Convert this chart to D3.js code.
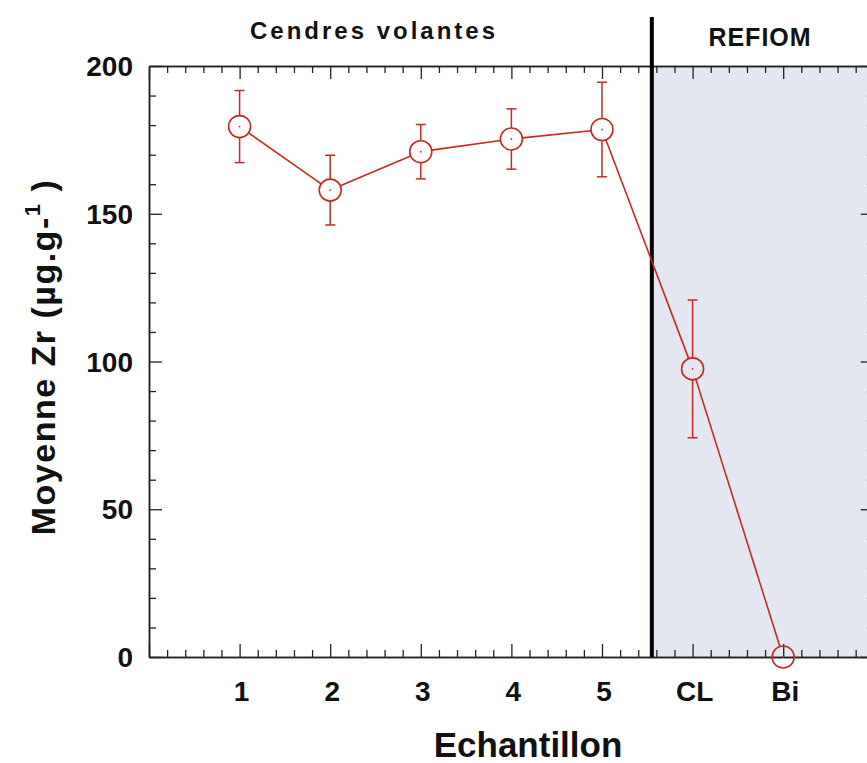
<!DOCTYPE html>
<html>
<head>
<meta charset="utf-8">
<script src="https://cdn.jsdelivr.net/npm/d3@7"></script>
<style>
  html, body { margin: 0; padding: 0; background: #fff; }
  svg { display: block; }
  text { font-family: "Liberation Sans", Arial, sans-serif; font-weight: bold; fill: #111; }
</style>
</head>
<body>
<svg id="chart" width="867" height="763"></svg>
<script>
// ---- data ----
const categories = ["1", "2", "3", "4", "5", "CL", "Bi"];
const positions = [1, 2, 3, 4, 5, 6, 7];
const means = [179.5, 158.0, 171.0, 175.3, 178.5, 97.5, 0];
const errors = [12.2, 11.8, 9.2, 10.2, 16.0, 23.3, 0];
const yTicks = [0, 50, 100, 150, 200];
const groupLabels = ["Cendres volantes", "REFIOM"];
const groupDivider = 5.55;
const xDomain = [0, 8];
const yDomain = [0, 200];

// ---- layout ----
const svg = d3.select("#chart");
const mLeft = 149, mTop = 66, mBottom = 657;
const unit = 90.6;
const x = d3.scaleLinear().domain(xDomain).range([mLeft, mLeft + unit * (xDomain[1] - xDomain[0])]);
const y = d3.scaleLinear().domain(yDomain).range([mBottom, mTop]);
const red = "#c8281e";
const R = 11;

// shaded REFIOM region
svg.append("rect")
  .attr("x", x(groupDivider)).attr("y", y(yDomain[1]))
  .attr("width", x(xDomain[1]) - x(groupDivider))
  .attr("height", y(yDomain[0]) - y(yDomain[1]))
  .attr("fill", "#e4e6f1");

// ticks
const majorX = d3.range(xDomain[0], xDomain[1] + 0.001, 1);
const minorX = d3.range(xDomain[0], xDomain[1] + 0.001, 0.2).filter(v => Math.abs(v - Math.round(v)) > 0.01);
const majorY = d3.range(yDomain[0], yDomain[1] + 0.001, 50);
const minorY = d3.range(yDomain[0], yDomain[1] + 0.001, 10).filter(v => v % 50 !== 0);
const MAJ = 13, MIN = 7;

const axisX = d3.axisBottom(x).tickValues(majorX).tickFormat("").tickSizeInner(-MAJ).tickSizeOuter(0);
const axisXmin = d3.axisBottom(x).tickValues(minorX).tickFormat("").tickSizeInner(-MIN).tickSizeOuter(0);
const axisXt = d3.axisTop(x).tickValues(majorX).tickFormat("").tickSizeInner(-MAJ).tickSizeOuter(0);
const axisXtmin = d3.axisTop(x).tickValues(minorX).tickFormat("").tickSizeInner(-MIN).tickSizeOuter(0);
const axisY = d3.axisLeft(y).tickValues(majorY).tickFormat("").tickSizeInner(-MAJ).tickSizeOuter(0);
const axisYmin = d3.axisLeft(y).tickValues(minorY).tickFormat("").tickSizeInner(-MIN).tickSizeOuter(0);
const axisYr = d3.axisRight(y).tickValues(majorY).tickFormat("").tickSizeInner(-MAJ).tickSizeOuter(0);
const axisYrmin = d3.axisRight(y).tickValues(minorY).tickFormat("").tickSizeInner(-MIN).tickSizeOuter(0);

function styleAxis(g) {
  g.selectAll("path").attr("stroke", "#222").attr("stroke-width", 1.5);
  g.selectAll("line").attr("stroke", "#222").attr("stroke-width", 1.3);
}
svg.append("g").attr("transform", `translate(0,${mBottom})`).call(axisX).call(styleAxis);
svg.append("g").attr("transform", `translate(0,${mBottom})`).call(axisXmin).call(styleAxis);
svg.append("g").attr("transform", `translate(0,${mTop})`).call(axisXt).call(styleAxis);
svg.append("g").attr("transform", `translate(0,${mTop})`).call(axisXtmin).call(styleAxis);
svg.append("g").attr("transform", `translate(${mLeft},0)`).call(axisY).call(styleAxis);
svg.append("g").attr("transform", `translate(${mLeft},0)`).call(axisYmin).call(styleAxis);
svg.append("g").attr("transform", `translate(${x(xDomain[1])},0)`).call(axisYr).call(styleAxis);
svg.append("g").attr("transform", `translate(${x(xDomain[1])},0)`).call(axisYrmin).call(styleAxis);

// tick labels
svg.append("g").selectAll("text").data(yTicks).join("text")
  .attr("x", 133).attr("y", d => y(d) + 10)
  .attr("text-anchor", "end").attr("font-size", 28)
  .text(d => d);
svg.append("g").selectAll("text").data(categories).join("text")
  .attr("x", (d, i) => x(positions[i]) + 2).attr("y", 701)
  .attr("text-anchor", "middle").attr("font-size", 28)
  .text(d => d);

// divider line
svg.append("line")
  .attr("x1", x(groupDivider)).attr("x2", x(groupDivider))
  .attr("y1", 17).attr("y2", y(0))
  .attr("stroke", "#000").attr("stroke-width", 4);

// group labels
svg.append("text").attr("x", 374).attr("y", 39).attr("text-anchor", "middle")
  .attr("font-size", 24).attr("letter-spacing", 3).text(groupLabels[0]);
svg.append("text").attr("x", 760).attr("y", 46).attr("text-anchor", "middle")
  .attr("font-size", 25).attr("letter-spacing", 1).text(groupLabels[1]);

// axis titles
svg.append("text").attr("x", 528).attr("y", 757).attr("text-anchor", "middle")
  .attr("font-size", 35).text("Echantillon");
const yt = svg.append("text").attr("transform", "translate(55,357) rotate(-90)")
  .attr("text-anchor", "middle").attr("font-size", 34).attr("letter-spacing", 1.5);
yt.append("tspan").text("Moyenne Zr (µg.g-");
yt.append("tspan").attr("font-size", 22).attr("dy", -15).text("1");
yt.append("tspan").attr("dy", 15).text(" )");

// data
const pts = positions.map((p, i) => ({ cx: x(p), cy: y(means[i]), m: means[i], e: errors[i] }));

// connecting line, trimmed at circle edges
const segs = d3.pairs(pts).map(([a, b]) => {
  const dx = b.cx - a.cx, dy = b.cy - a.cy, L = Math.hypot(dx, dy);
  return { x1: a.cx + dx / L * R, y1: a.cy + dy / L * R, x2: b.cx - dx / L * R, y2: b.cy - dy / L * R };
});
svg.append("g").selectAll("line").data(segs).join("line")
  .attr("x1", d => d.x1).attr("y1", d => d.y1).attr("x2", d => d.x2).attr("y2", d => d.y2)
  .attr("stroke", red).attr("stroke-width", 1.6);

// error bars
const eb = svg.append("g").attr("stroke", red).attr("stroke-width", 1.5);
pts.filter(d => d.e > 0).forEach(d => {
  const yt2 = y(d.m + d.e), yb = y(d.m - d.e);
  eb.append("line").attr("x1", d.cx).attr("x2", d.cx).attr("y1", yt2).attr("y2", d.cy - R);
  eb.append("line").attr("x1", d.cx).attr("x2", d.cx).attr("y1", d.cy + R).attr("y2", yb);
  eb.append("line").attr("x1", d.cx - 5).attr("x2", d.cx + 5).attr("y1", yt2).attr("y2", yt2);
  eb.append("line").attr("x1", d.cx - 5).attr("x2", d.cx + 5).attr("y1", yb).attr("y2", yb);
});

// markers
svg.append("g").selectAll("circle").data(pts).join("circle")
  .attr("cx", d => d.cx).attr("cy", d => d.cy).attr("r", R)
  .attr("fill", "none").attr("stroke", red).attr("stroke-width", 1.6);
svg.append("g").selectAll("circle").data(pts).join("circle")
  .attr("cx", d => d.cx).attr("cy", d => d.cy).attr("r", 0.9)
  .attr("fill", red);
</script>
</body>
</html>
